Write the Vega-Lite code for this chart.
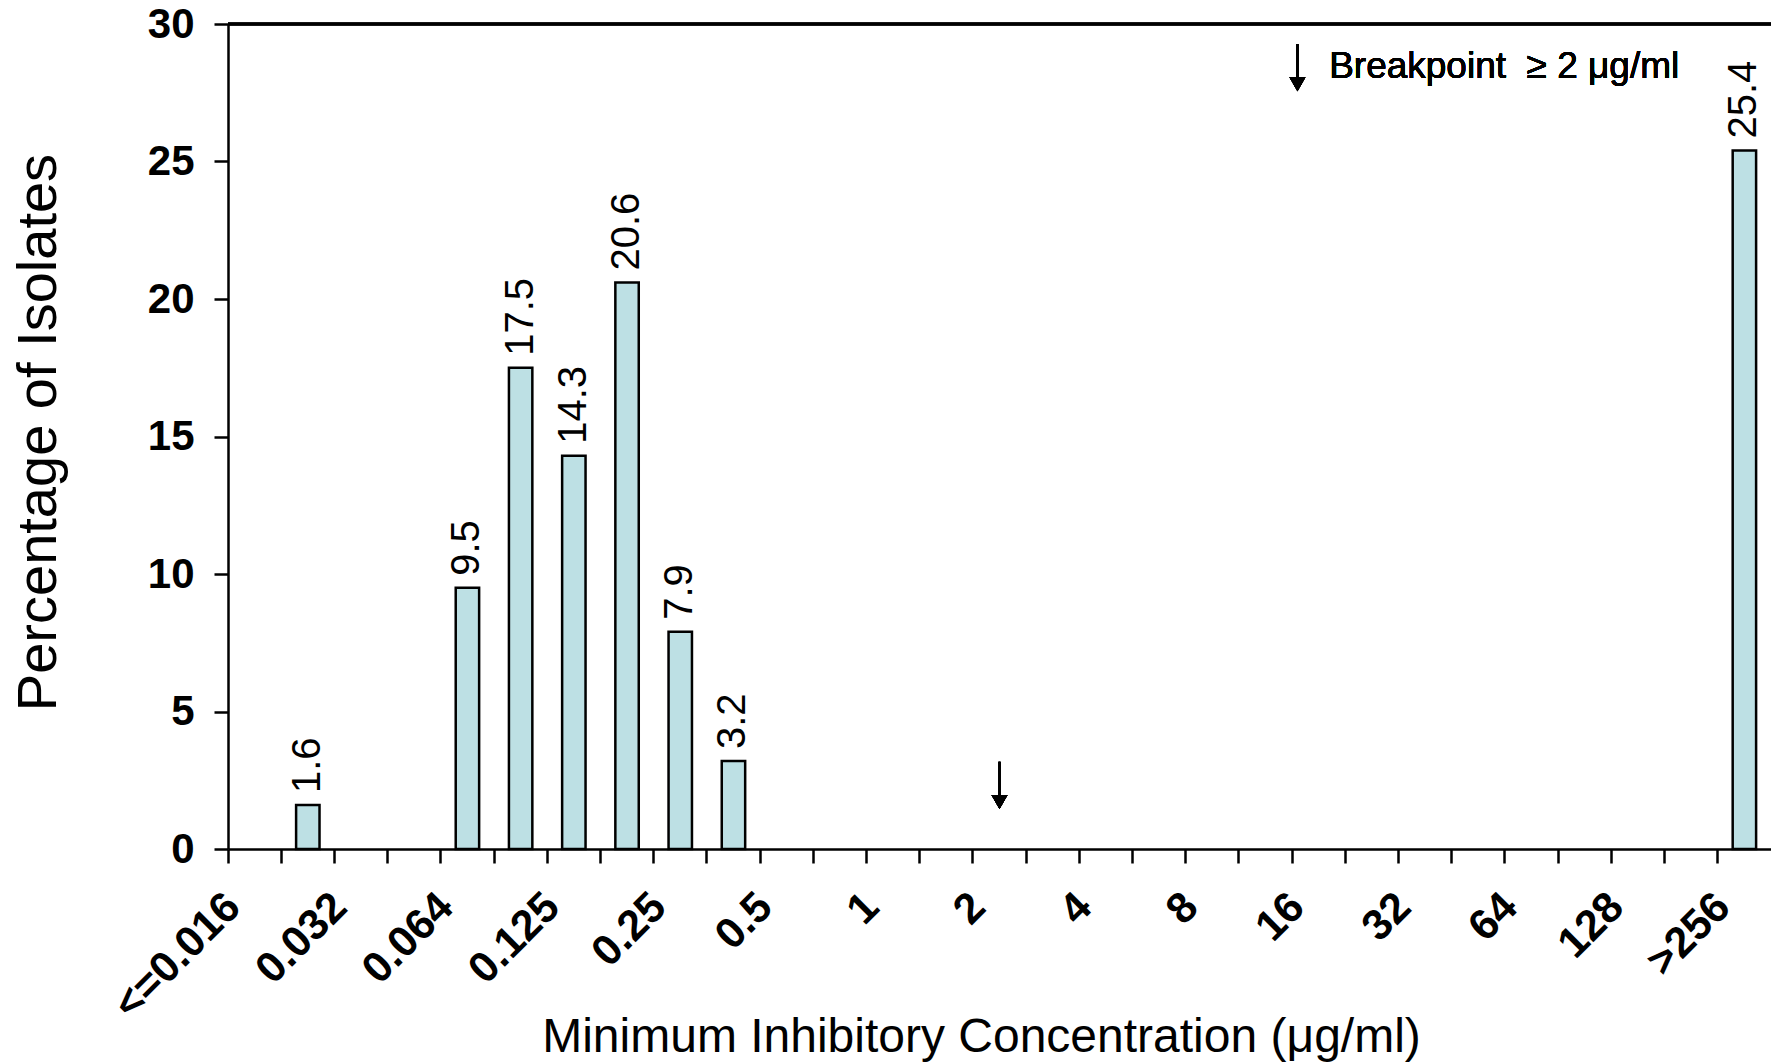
{
  "$schema": "https://vega.github.io/schema/vega-lite/v6.json",
  "width": 1543,
  "height": 825,
  "autosize": {"type": "none"},
  "padding": {"left": 228, "top": 24, "right": 0, "bottom": 215},
  "background": "white",
  "config": {"view": {"stroke": null}, "font": "Liberation Sans"},
  "data": {"values": [
    {"mic": "0.023", "pct": 1.6},
    {"mic": "0.064", "pct": 9.5},
    {"mic": "0.094", "pct": 17.5},
    {"mic": "0.125", "pct": 14.3},
    {"mic": "0.19", "pct": 20.6},
    {"mic": "0.25", "pct": 7.9},
    {"mic": "0.38", "pct": 3.2},
    {"mic": ">256", "pct": 25.4}
  ]},
  "layer": [
    {
      "mark": {"type": "bar", "fill": "#BDE0E4", "stroke": "black", "strokeWidth": 2.5, "width": {"band": 0.44}},
      "encoding": {
        "x": {
          "field": "mic", "type": "ordinal",
          "scale": {"domain": ["<=0.016","0.023","0.032","0.047","0.064","0.094","0.125","0.19","0.25","0.38","0.5","0.75","1","1.5","2","3","4","6","8","12","16","24","32","48","64","96","128","192",">256"], "paddingInner": 0, "paddingOuter": 0},
          "axis": {
            "title": "Minimum Inhibitory Concentration (μg/ml)",
            "bandPosition": 0,
            "labelAngle": -45,
            "labelFontSize": 43,
            "labelFontWeight": "bold",
            "labelColor": "black",
            "labelPadding": 22,
            "labelOffset": -36,
            "labelOverlap": false,
            "labelBound": false,
            "labelFlush": false,
            "labelExpr": "indexof(['0.023','0.047','0.094','0.19','0.38','0.75','1.5','3','6','12','24','48','96','192'], datum.value) >= 0 ? '' : datum.label",
            "tickSize": 14,
            "tickWidth": 2.5,
            "tickColor": "black",
            "domainColor": "black",
            "domainWidth": 2.5,
            "grid": false,
            "titleFontSize": 48,
            "titleFontWeight": "normal",
            "titleColor": "black",
            "titleX": 753,
            "titleY": 202,
            "titleAlign": "center",
            "titleBaseline": "alphabetic"
          }
        },
        "y": {
          "field": "pct", "type": "quantitative",
          "scale": {"domain": [0, 30], "nice": false},
          "axis": {
            "title": "Percentage of Isolates",
            "values": [0, 5, 10, 15, 20, 25, 30],
            "labelFontSize": 42,
            "labelFontWeight": "bold",
            "labelColor": "black",
            "labelPadding": 20,
            "tickSize": 14,
            "tickWidth": 2.5,
            "tickColor": "black",
            "domainColor": "black",
            "domainWidth": 2.5,
            "grid": false,
            "titleFontSize": 56,
            "titleFontWeight": "normal",
            "titleColor": "black",
            "titleAngle": 270,
            "titleX": -173,
            "titleY": 408,
            "titleAlign": "center",
            "titleBaseline": "alphabetic"
          }
        }
      }
    },
    {
      "mark": {"type": "text", "angle": 270, "align": "left", "baseline": "middle", "dx": 12, "fontSize": 40, "color": "black"},
      "encoding": {
        "x": {"field": "mic", "type": "ordinal"},
        "y": {"field": "pct", "type": "quantitative"},
        "text": {"field": "pct", "type": "quantitative", "format": ".1f"}
      }
    },
    {
      "mark": {"type": "rule", "strokeWidth": 2.5, "color": "black"},
      "encoding": {"y": {"datum": 30, "type": "quantitative"}}
    },
    {
      "mark": {"type": "rule", "strokeWidth": 2, "color": "black"},
      "encoding": {
        "x": {"datum": "2", "type": "ordinal"},
        "y": {"datum": 3.17, "type": "quantitative"},
        "y2": {"datum": 1.9}
      }
    },
    {
      "mark": {"type": "point", "shape": "triangle-down", "size": 256, "filled": true, "color": "black", "opacity": 1},
      "encoding": {
        "x": {"datum": "2", "type": "ordinal"},
        "y": {"datum": 1.71, "type": "quantitative"}
      }
    },
    {
      "mark": {"type": "rule", "strokeWidth": 2, "color": "black"},
      "encoding": {
        "x": {"datum": "16", "type": "ordinal", "bandPosition": 0.1},
        "y": {"datum": 29.27, "type": "quantitative"},
        "y2": {"datum": 27.99}
      }
    },
    {
      "mark": {"type": "point", "shape": "triangle-down", "size": 256, "filled": true, "color": "black", "opacity": 1},
      "encoding": {
        "x": {"datum": "16", "type": "ordinal", "bandPosition": 0.1},
        "y": {"datum": 27.81, "type": "quantitative"}
      }
    },
    {
      "mark": {"type": "text", "align": "left", "baseline": "alphabetic", "dx": 37, "fontSize": 37, "color": "black"},
      "encoding": {
        "x": {"datum": "16", "type": "ordinal", "bandPosition": 0},
        "y": {"datum": 28.04, "type": "quantitative"},
        "text": {"value": "Breakpoint\u00a0 ≥ 2 μg/ml"}
      }
    }
  ]
}
